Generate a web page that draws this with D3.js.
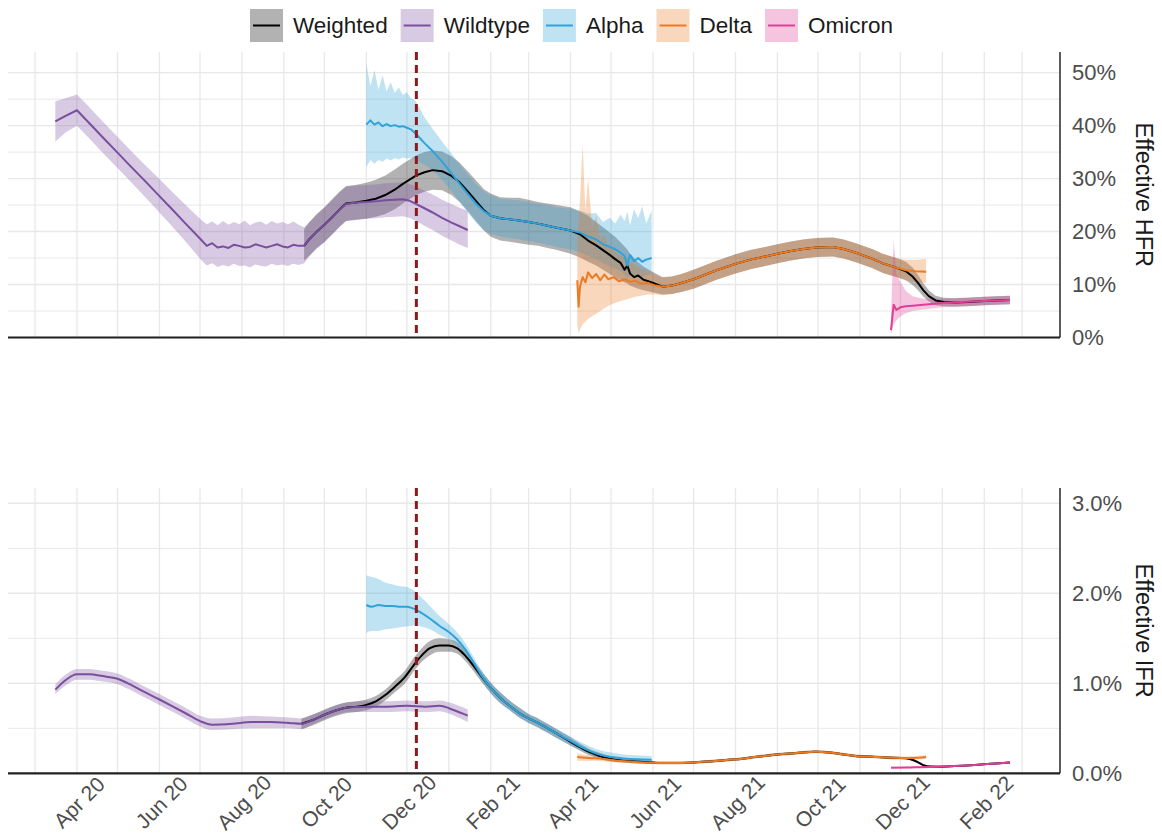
<!DOCTYPE html>
<html>
<head>
<meta charset="utf-8">
<script src="https://cdn.jsdelivr.net/npm/d3@7"></script>
<style>
  html, body { margin: 0; padding: 0; background: #fff; }
  svg { display: block; font-family: "Liberation Sans", Arial, Helvetica, sans-serif; }
</style>
</head>
<body>
<svg id="chart" width="1162" height="833"></svg>
<script>
// ---- Series: [date, estimate, lower, upper] ----
// Effective hospitalisation fatality rate (%)
const hfrWildtype = [
  ["2020-03-16",40.8,37.0,44.6],["2020-03-24",41.9,38.8,45.2],["2020-04-01",42.9,40.0,45.9],
  ["2020-04-10",40.5,37.6,43.5],["2020-04-20",37.8,34.9,40.8],["2020-05-01",34.9,32.0,37.9],
  ["2020-05-10",32.5,29.6,35.5],["2020-05-20",29.9,26.9,32.9],["2020-06-01",26.7,23.6,29.9],
  ["2020-06-10",24.3,21.1,27.6],["2020-06-20",21.6,18.2,25.1],["2020-07-02",18.4,14.6,22.2],
  ["2020-07-06",17.3,13.6,21.4],["2020-07-10",17.8,14.0,21.9],["2020-07-14",17.0,13.3,21.2],
  ["2020-07-18",17.2,13.7,22.0],["2020-07-22",16.9,13.4,21.3],["2020-07-26",17.5,13.9,21.8],
  ["2020-07-30",17.3,13.5,21.4],["2020-08-03",17.0,13.6,22.1],["2020-08-07",17.1,13.2,21.2],
  ["2020-08-11",17.6,13.8,21.7],["2020-08-15",17.3,13.5,21.9],["2020-08-19",17.0,13.4,21.3],
  ["2020-08-23",17.3,13.9,22.0],["2020-08-27",17.6,13.6,21.5],["2020-08-31",17.2,13.8,21.8],
  ["2020-09-04",17.0,13.5,21.4],["2020-09-08",17.5,13.9,21.9],["2020-09-12",17.3,13.7,21.3],
  ["2020-09-16",17.3,14.0,20.8],["2020-09-20",18.6,15.4,21.8],["2020-09-25",19.9,16.7,23.1],
  ["2020-10-01",21.3,18.1,24.5],["2020-10-07",22.8,19.6,26.0],["2020-10-12",24.1,20.9,27.3],
  ["2020-10-17",25.2,22.0,28.4],["2020-10-24",25.5,22.3,28.7],["2020-11-01",25.6,22.4,28.8],
  ["2020-11-08",25.7,22.5,28.9],["2020-11-15",25.9,22.7,29.1],["2020-11-22",26.0,22.8,29.2],
  ["2020-11-28",26.1,22.9,29.3],["2020-12-03",25.8,22.6,29.0],["2020-12-08",25.2,22.0,28.5],
  ["2020-12-14",24.4,21.1,27.7],["2020-12-20",23.6,20.3,27.0],["2020-12-27",22.6,19.2,26.0],
  ["2021-01-03",21.7,18.3,25.2],["2021-01-09",21.0,17.5,24.5],["2021-01-15",20.3,16.9,23.9]
];
const hfrAlpha = [
  ["2020-11-01",40.2,32.2,51.8],["2020-11-04",41.0,33.5,47.5],["2020-11-07",40.2,32.8,50.5],
  ["2020-11-10",40.6,33.5,46.8],["2020-11-13",39.9,33.2,49.5],["2020-11-16",40.3,33.8,46.5],
  ["2020-11-19",39.9,33.4,48.2],["2020-11-22",40.1,33.9,46.2],["2020-11-25",39.8,33.6,47.2],
  ["2020-11-28",39.9,34.0,45.8],["2020-12-01",39.6,33.8,46.3],["2020-12-04",39.3,33.9,45.2],
  ["2020-12-07",38.6,33.6,44.8],["2020-12-10",37.8,33.2,43.5],["2020-12-14",36.7,32.6,41.6],
  ["2020-12-20",35.2,31.6,39.4],["2020-12-27",33.2,29.8,37.0],["2021-01-03",31.0,27.6,34.7],
  ["2021-01-09",29.0,25.6,32.7],["2021-01-15",27.1,23.6,30.8],["2021-01-21",25.3,21.7,29.0],
  ["2021-01-27",23.8,20.2,27.6],["2021-02-01",23.0,19.6,26.8],["2021-02-08",22.5,19.0,26.2],
  ["2021-02-15",22.3,18.8,26.0],["2021-02-22",22.1,18.5,25.9],["2021-03-01",21.8,18.2,25.6],
  ["2021-03-08",21.5,17.9,25.3],["2021-03-15",21.1,17.5,25.0],["2021-03-22",20.7,17.1,24.6],
  ["2021-04-01",20.2,16.6,24.3],["2021-04-08",19.8,16.1,24.0],["2021-04-14",19.1,15.4,23.4],
  ["2021-04-20",18.5,14.8,23.5],["2021-04-25",17.6,14.0,21.8],["2021-04-30",17.1,13.5,22.6],
  ["2021-05-04",16.7,13.0,21.5],["2021-05-08",16.0,12.5,23.2],["2021-05-11",15.4,12.0,22.0],
  ["2021-05-13",13.6,11.0,23.8],["2021-05-15",15.6,12.2,21.2],["2021-05-18",14.4,11.6,24.2],
  ["2021-05-21",15.0,12.0,22.5],["2021-05-24",14.3,11.4,24.8],["2021-05-27",14.7,11.8,21.5],
  ["2021-05-31",15.0,12.0,24.0]
];
const hfrDelta = [
  ["2021-04-06",10.8,2.5,18.0],["2021-04-07",5.8,0.8,22.0],["2021-04-08",9.6,1.5,26.0],
  ["2021-04-10",11.4,2.5,36.6],["2021-04-12",10.4,3.0,24.0],["2021-04-14",12.3,3.5,30.0],
  ["2021-04-17",11.2,4.0,21.0],["2021-04-20",12.0,4.5,23.0],["2021-04-23",10.8,5.0,18.5],
  ["2021-04-26",11.9,5.5,19.5],["2021-04-29",11.0,6.0,17.0],["2021-05-03",11.4,6.4,16.8],
  ["2021-05-07",10.6,6.8,15.6],["2021-05-11",11.0,7.1,15.0],["2021-05-15",10.5,7.4,14.2],
  ["2021-05-19",10.7,7.7,13.8],["2021-05-23",10.2,7.9,13.0],["2021-05-28",10.3,8.1,12.6],
  ["2021-06-03",9.8,8.1,11.8],["2021-06-08",9.6,8.0,11.3],["2021-06-15",9.8,8.2,11.5],
  ["2021-06-22",10.3,8.6,12.0],["2021-07-01",11.0,9.2,12.8],["2021-07-10",11.9,10.1,13.7],
  ["2021-07-18",12.7,10.9,14.5],["2021-08-01",13.9,12.1,15.7],["2021-08-12",14.7,12.9,16.5],
  ["2021-08-23",15.3,13.5,17.1],["2021-09-01",15.8,14.0,17.6],["2021-09-10",16.3,14.5,18.1],
  ["2021-09-20",16.7,14.9,18.5],["2021-09-30",17.0,15.2,18.8],["2021-10-12",17.1,15.3,18.9],
  ["2021-10-20",16.7,14.9,18.5],["2021-10-29",16.0,14.2,17.8],["2021-11-10",14.9,13.1,16.7],
  ["2021-11-18",14.0,12.2,15.8],["2021-11-28",13.2,11.4,15.0],["2021-12-05",12.7,10.8,14.7],
  ["2021-12-12",12.5,10.5,14.7],["2021-12-20",12.4,10.3,14.8]
];
const hfrOmicron = [
  ["2021-11-24",1.4,0.6,4.0],["2021-11-26",6.2,2.5,18.4],["2021-11-28",5.2,3.2,12.0],
  ["2021-12-01",5.7,4.0,10.5],["2021-12-05",5.9,4.6,8.8],["2021-12-10",6.0,5.0,7.8],
  ["2021-12-18",6.2,5.3,7.3],["2022-01-01",6.5,5.7,7.3],["2022-01-15",6.7,5.9,7.5],
  ["2022-02-01",6.9,6.1,7.7],["2022-02-20",7.1,6.3,7.9]
];
const hfrWeighted = [
  ["2020-09-16",17.3,14.5,20.5],["2020-09-20",18.6,15.5,21.8],["2020-09-25",19.9,16.8,23.2],
  ["2020-10-01",21.3,18.0,24.6],["2020-10-07",22.8,19.5,26.2],["2020-10-12",24.1,20.8,27.5],
  ["2020-10-17",25.3,22.0,28.6],["2020-10-24",25.5,22.2,28.8],["2020-11-01",25.8,22.4,29.2],
  ["2020-11-08",26.2,22.8,29.8],["2020-11-15",26.9,23.3,30.6],["2020-11-22",27.9,24.2,31.7],
  ["2020-11-28",29.0,25.3,32.8],["2020-12-03",29.8,26.1,33.6],["2020-12-08",30.6,26.9,34.4],
  ["2020-12-14",31.2,27.5,35.0],["2020-12-20",31.6,27.9,35.3],["2020-12-27",31.4,27.8,35.1],
  ["2021-01-03",30.5,26.9,34.2],["2021-01-09",29.3,25.6,33.0],["2021-01-15",27.6,23.9,31.4],
  ["2021-01-21",25.8,22.0,29.7],["2021-01-27",24.0,20.2,28.0],["2021-02-01",23.0,19.0,27.2],
  ["2021-02-08",22.5,18.3,26.5],["2021-02-15",22.3,18.1,26.4],["2021-02-22",22.1,17.8,26.4],
  ["2021-03-01",21.8,17.5,26.0],["2021-03-08",21.5,17.3,25.6],["2021-03-15",21.1,16.9,25.3],
  ["2021-03-22",20.7,16.5,25.0],["2021-04-01",20.2,15.8,24.6],["2021-04-08",19.5,15.1,23.8],
  ["2021-04-14",18.3,14.3,23.0],["2021-04-20",17.4,13.6,21.8],["2021-04-25",16.5,12.8,20.8],
  ["2021-04-30",15.6,12.0,19.8],["2021-05-04",14.8,11.4,19.0],["2021-05-08",14.1,10.8,18.0],
  ["2021-05-11",12.8,10.4,17.2],["2021-05-13",13.6,10.2,16.6],["2021-05-15",12.1,9.8,15.8],
  ["2021-05-18",11.4,9.5,15.0],["2021-05-21",11.7,9.2,14.2],["2021-05-25",10.9,8.9,13.4],
  ["2021-05-29",10.6,8.7,12.8],["2021-06-03",10.1,8.4,12.1],["2021-06-08",9.6,8.1,11.4],
  ["2021-06-15",9.8,8.2,11.5],["2021-06-22",10.3,8.6,12.0],["2021-07-01",11.0,9.2,12.8],
  ["2021-07-10",11.9,10.1,13.7],["2021-07-18",12.7,10.9,14.5],["2021-08-01",13.9,12.1,15.7],
  ["2021-08-12",14.7,12.9,16.5],["2021-08-23",15.3,13.5,17.1],["2021-09-01",15.8,14.0,17.6],
  ["2021-09-10",16.3,14.5,18.1],["2021-09-20",16.7,14.9,18.5],["2021-09-30",17.0,15.2,18.8],
  ["2021-10-12",17.1,15.3,18.9],["2021-10-20",16.7,14.9,18.5],["2021-10-29",16.0,14.2,17.8],
  ["2021-11-10",14.9,13.1,16.7],["2021-11-18",14.0,12.2,15.8],["2021-11-28",13.2,11.4,15.0],
  ["2021-12-05",12.5,10.8,14.3],["2021-12-10",11.5,9.9,13.2],["2021-12-14",10.3,8.9,11.8],
  ["2021-12-18",8.9,7.7,10.2],["2021-12-22",7.8,6.8,8.9],["2021-12-27",7.0,6.1,7.9],
  ["2022-01-02",6.7,5.9,7.5],["2022-01-10",6.6,5.8,7.4],["2022-01-20",6.7,5.9,7.5],
  ["2022-02-01",6.9,6.1,7.7],["2022-02-10",7.0,6.2,7.8],["2022-02-20",7.1,6.3,7.9]
];

// Effective infection fatality rate (%)
const ifrWildtype = [
  ["2020-03-16",0.93,0.88,0.99],["2020-03-24",1.04,0.98,1.10],["2020-04-01",1.10,1.04,1.16],
  ["2020-04-10",1.10,1.04,1.16],["2020-04-20",1.08,1.02,1.14],["2020-05-01",1.05,0.99,1.11],
  ["2020-05-10",0.99,0.93,1.05],["2020-05-20",0.91,0.85,0.97],["2020-06-01",0.82,0.76,0.88],
  ["2020-06-10",0.75,0.69,0.81],["2020-06-20",0.67,0.61,0.73],["2020-07-01",0.58,0.52,0.64],
  ["2020-07-10",0.54,0.48,0.61],["2020-07-25",0.55,0.49,0.62],["2020-08-08",0.57,0.50,0.64],
  ["2020-08-22",0.57,0.50,0.63],["2020-09-05",0.56,0.50,0.62],["2020-09-14",0.55,0.49,0.61],
  ["2020-09-22",0.59,0.54,0.65],["2020-10-01",0.65,0.60,0.70],["2020-10-10",0.70,0.65,0.76],
  ["2020-10-18",0.73,0.68,0.79],["2020-11-01",0.74,0.68,0.80],["2020-11-15",0.74,0.68,0.80],
  ["2020-12-01",0.75,0.69,0.81],["2020-12-15",0.74,0.68,0.80],["2020-12-25",0.75,0.69,0.81],
  ["2021-01-05",0.70,0.64,0.77],["2021-01-15",0.64,0.57,0.71]
];
const ifrAlpha = [
  ["2020-11-01",1.87,1.56,2.20],["2020-11-05",1.85,1.58,2.18],["2020-11-10",1.87,1.58,2.16],
  ["2020-11-15",1.86,1.60,2.12],["2020-11-20",1.86,1.61,2.10],["2020-11-25",1.85,1.62,2.08],
  ["2020-12-01",1.85,1.63,2.07],["2020-12-06",1.83,1.64,2.03],["2020-12-12",1.78,1.63,1.95],
  ["2020-12-18",1.72,1.60,1.86],["2020-12-25",1.64,1.54,1.75],["2021-01-01",1.57,1.49,1.66],
  ["2021-01-07",1.49,1.42,1.57],["2021-01-13",1.38,1.32,1.45],["2021-01-19",1.24,1.18,1.30],
  ["2021-01-25",1.09,1.03,1.15],["2021-02-01",0.95,0.89,1.01],["2021-02-08",0.84,0.78,0.90],
  ["2021-02-15",0.75,0.70,0.81],["2021-02-22",0.67,0.62,0.73],["2021-03-01",0.61,0.56,0.66],
  ["2021-03-08",0.56,0.51,0.61],["2021-03-15",0.50,0.45,0.55],["2021-03-22",0.44,0.39,0.49],
  ["2021-04-01",0.36,0.31,0.41],["2021-04-08",0.30,0.26,0.35],["2021-04-15",0.25,0.21,0.30],
  ["2021-04-22",0.21,0.17,0.26],["2021-05-01",0.18,0.14,0.23],["2021-05-10",0.165,0.125,0.21],
  ["2021-05-20",0.155,0.115,0.20],["2021-05-31",0.15,0.11,0.19]
];
const ifrDelta = [
  ["2021-04-06",0.18,0.14,0.22],["2021-04-15",0.17,0.14,0.20],["2021-04-25",0.16,0.135,0.185],
  ["2021-05-05",0.14,0.12,0.16],["2021-05-15",0.13,0.115,0.145],["2021-05-25",0.12,0.105,0.135],
  ["2021-06-05",0.115,0.10,0.13],["2021-06-20",0.115,0.10,0.13],["2021-07-01",0.12,0.105,0.135],
  ["2021-07-15",0.135,0.12,0.15],["2021-08-01",0.155,0.14,0.17],["2021-08-15",0.18,0.165,0.195],
  ["2021-09-01",0.21,0.195,0.225],["2021-09-15",0.225,0.21,0.24],["2021-09-29",0.24,0.225,0.255],
  ["2021-10-10",0.23,0.215,0.245],["2021-10-20",0.21,0.195,0.225],["2021-10-30",0.19,0.175,0.205],
  ["2021-11-10",0.185,0.17,0.20],["2021-11-20",0.175,0.16,0.19],["2021-12-01",0.17,0.155,0.185],
  ["2021-12-10",0.17,0.155,0.19],["2021-12-20",0.18,0.16,0.20]
];
const ifrOmicron = [
  ["2021-11-24",0.063,0.055,0.072],["2021-12-05",0.064,0.056,0.073],["2021-12-15",0.068,0.060,0.077],
  ["2021-12-29",0.074,0.066,0.083],["2022-01-10",0.080,0.072,0.089],["2022-01-20",0.088,0.080,0.097],
  ["2022-02-01",0.100,0.091,0.109],["2022-02-10",0.110,0.100,0.120],["2022-02-20",0.120,0.110,0.130]
];
const ifrWeighted = [
  ["2020-09-14",0.55,0.49,0.61],["2020-09-22",0.59,0.53,0.65],["2020-10-01",0.65,0.59,0.71],
  ["2020-10-10",0.70,0.64,0.76],["2020-10-18",0.73,0.67,0.79],["2020-10-25",0.74,0.68,0.80],
  ["2020-11-01",0.76,0.70,0.82],["2020-11-08",0.80,0.74,0.86],["2020-11-15",0.87,0.81,0.93],
  ["2020-11-22",0.96,0.90,1.03],["2020-11-29",1.06,0.99,1.13],["2020-12-06",1.20,1.13,1.28],
  ["2020-12-12",1.31,1.24,1.39],["2020-12-18",1.39,1.31,1.47],["2020-12-25",1.42,1.35,1.50],
  ["2021-01-01",1.42,1.35,1.49],["2021-01-07",1.39,1.33,1.46],["2021-01-13",1.31,1.25,1.37],
  ["2021-01-19",1.20,1.14,1.26],["2021-01-25",1.08,1.02,1.14],["2021-02-01",0.95,0.89,1.01],
  ["2021-02-08",0.84,0.78,0.90],["2021-02-15",0.75,0.70,0.81],["2021-02-22",0.67,0.62,0.73],
  ["2021-03-01",0.61,0.56,0.66],["2021-03-08",0.56,0.51,0.61],["2021-03-15",0.50,0.45,0.55],
  ["2021-03-22",0.44,0.39,0.49],["2021-04-01",0.35,0.31,0.40],["2021-04-08",0.29,0.25,0.33],
  ["2021-04-15",0.235,0.20,0.27],["2021-04-22",0.195,0.165,0.23],["2021-05-01",0.16,0.13,0.19],
  ["2021-05-10",0.14,0.12,0.17],["2021-05-20",0.13,0.11,0.15],["2021-05-31",0.12,0.105,0.14],
  ["2021-06-05",0.115,0.10,0.13],["2021-06-20",0.115,0.10,0.13],["2021-07-01",0.12,0.105,0.135],
  ["2021-07-15",0.135,0.12,0.15],["2021-08-01",0.155,0.14,0.17],["2021-08-15",0.18,0.165,0.195],
  ["2021-09-01",0.21,0.195,0.225],["2021-09-15",0.225,0.21,0.24],["2021-09-29",0.24,0.225,0.255],
  ["2021-10-10",0.23,0.215,0.245],["2021-10-20",0.21,0.195,0.225],["2021-10-30",0.19,0.175,0.205],
  ["2021-11-10",0.185,0.17,0.20],["2021-11-20",0.175,0.16,0.19],["2021-12-01",0.17,0.155,0.185],
  ["2021-12-08",0.16,0.145,0.175],["2021-12-13",0.13,0.117,0.145],["2021-12-18",0.09,0.08,0.10],
  ["2021-12-23",0.075,0.067,0.084],["2021-12-29",0.074,0.066,0.083],["2022-01-10",0.080,0.072,0.089],
  ["2022-01-20",0.088,0.080,0.097],["2022-02-01",0.100,0.091,0.109],["2022-02-10",0.110,0.100,0.120],
  ["2022-02-20",0.120,0.110,0.130]
];

// ---- Labels, keys and reference date ----
const seriesNames = ["Weighted", "Wildtype", "Alpha", "Delta", "Omicron"];
const seriesColors = ["#000000", "#7a4e9e", "#2fa2dc", "#ec7a22", "#df3f98"];
const monthBreaks = ["2020-03-01","2020-04-01","2020-05-01","2020-06-01","2020-07-01","2020-08-01",
  "2020-09-01","2020-10-01","2020-11-01","2020-12-01","2021-01-01","2021-02-01","2021-03-01",
  "2021-04-01","2021-05-01","2021-06-01","2021-07-01","2021-08-01","2021-09-01","2021-10-01",
  "2021-11-01","2021-12-01","2022-01-01","2022-02-01","2022-03-01"];
const xTickLabels = [["2020-04-01","Apr 20"],["2020-06-01","Jun 20"],["2020-08-01","Aug 20"],
  ["2020-10-01","Oct 20"],["2020-12-01","Dec 20"],["2021-02-01","Feb 21"],["2021-04-01","Apr 21"],
  ["2021-06-01","Jun 21"],["2021-08-01","Aug 21"],["2021-10-01","Oct 21"],["2021-12-01","Dec 21"],
  ["2022-02-01","Feb 22"]];
const hfrTicks = [0, 10, 20, 30, 40, 50];
const ifrTicks = [0, 1, 2, 3];
const vaccineDate = "2020-12-08";

// ---- Layout ----
const parse = d3.utcParse("%Y-%m-%d");
const svg = d3.select("#chart");
const plotLeft = 8, plotRight = 1060;

const x = d3.scaleUtc()
  .domain([parse("2020-02-10"), parse("2022-03-29")])
  .range([plotLeft, plotRight]);

const panels = [
  { top: 52, bottom: 337.5, max: 53.9, ticks: hfrTicks, minor: 5, fmt: d => d + "%",
    title: "Effective HFR",
    series: [hfrWeighted, hfrWildtype, hfrAlpha, hfrDelta, hfrOmicron], curve: d3.curveLinear },
  { top: 488, bottom: 773.3, max: 3.17, ticks: ifrTicks, minor: 0.5, fmt: d => d.toFixed(1) + "%",
    title: "Effective IFR",
    series: [ifrWeighted, ifrWildtype, ifrAlpha, ifrDelta, ifrOmicron], curve: d3.curveMonotoneX }
];

const gridColor = "#e8e8e8";
const textGray = "#4d4d4d";

panels.forEach((p, pi) => {
  const y = d3.scaleLinear().domain([0, p.max]).range([p.bottom, p.top]);
  const g = svg.append("g");

  // horizontal grid (minor then major)
  const minorVals = d3.range(p.minor, p.max, p.minor * 2);
  g.selectAll(".hminor").data(minorVals).join("line")
    .attr("x1", plotLeft).attr("x2", plotRight)
    .attr("y1", d => y(d)).attr("y2", d => y(d))
    .attr("stroke", gridColor).attr("stroke-width", 1);
  g.selectAll(".hmajor").data(p.ticks).join("line")
    .attr("x1", plotLeft).attr("x2", plotRight)
    .attr("y1", d => y(d)).attr("y2", d => y(d))
    .attr("stroke", gridColor).attr("stroke-width", 1.4);

  // vertical grid, one per month
  g.selectAll(".vgrid").data(monthBreaks.map(parse)).join("line")
    .attr("x1", d => x(d)).attr("x2", d => x(d))
    .attr("y1", p.top).attr("y2", p.bottom)
    .attr("stroke", gridColor).attr("stroke-width", 1.3);

  const area = d3.area().curve(p.curve)
    .x(d => x(parse(d[0]))).y0(d => y(d[2])).y1(d => y(d[3]));
  const line = d3.line().curve(p.curve)
    .x(d => x(parse(d[0]))).y(d => y(d[1]));

  // uncertainty ribbons
  p.series.forEach((s, i) => {
    g.append("path").datum(s).attr("d", area)
      .attr("fill", seriesColors[i]).attr("fill-opacity", 0.3).attr("stroke", "none");
  });
  // central estimates
  p.series.forEach((s, i) => {
    g.append("path").datum(s).attr("d", line)
      .attr("fill", "none").attr("stroke", seriesColors[i])
      .attr("stroke-width", 2).attr("stroke-linejoin", "round");
  });

  // vaccination start marker
  const vx = x(parse(vaccineDate));
  g.append("line").attr("x1", vx).attr("x2", vx).attr("y1", p.top).attr("y2", p.bottom)
    .attr("stroke", "#8b1a1a").attr("stroke-width", 3).attr("stroke-dasharray", "8,5");

  // axes
  const yAxis = d3.axisRight(y).tickValues(p.ticks).tickFormat(p.fmt).tickSize(0).tickPadding(12);
  const ya = g.append("g").attr("transform", `translate(${plotRight},0)`).call(yAxis);
  ya.select(".domain").attr("stroke", "#333").attr("stroke-width", 1.6)
    .attr("d", `M0,${p.top}V${p.bottom}`);
  ya.selectAll("text").attr("fill", textGray).attr("font-size", 22)
    .attr("font-family", "Liberation Sans, Arial, sans-serif");

  const xAxis = d3.axisBottom(x).tickValues([]).tickSize(0);
  const xa = g.append("g").attr("transform", `translate(0,${p.bottom})`).call(xAxis);
  xa.select(".domain").attr("stroke", "#222").attr("stroke-width", 2.2)
    .attr("d", `M${plotLeft},0H${plotRight}`);

  // axis title on the right
  g.append("text")
    .attr("transform", `translate(1136,${(p.top + p.bottom) / 2}) rotate(90)`)
    .attr("text-anchor", "middle").attr("font-size", 23.5).attr("fill", "#1a1a1a")
    .text(p.title);

  // date labels under the lower panel
  if (pi === 1) {
    g.selectAll(".xlab").data(xTickLabels).join("text")
      .attr("transform", d => `translate(${x(parse(d[0])) + 2},${p.bottom + 29}) rotate(-45)`)
      .attr("text-anchor", "middle").attr("dominant-baseline", "central")
      .attr("font-size", 21).attr("fill", textGray)
      .text(d => d[1]);
  }
});

// ---- Legend ----
const legend = svg.append("g");
let lx = 250;
seriesNames.forEach((name, i) => {
  const item = legend.append("g").attr("transform", `translate(${lx},9)`);
  item.append("rect").attr("width", 33).attr("height", 33)
    .attr("fill", seriesColors[i]).attr("fill-opacity", 0.3);
  item.append("line").attr("x1", 3).attr("x2", 30).attr("y1", 16.5).attr("y2", 16.5)
    .attr("stroke", seriesColors[i]).attr("stroke-width", 2);
  const t = item.append("text").attr("x", 43).attr("y", 16.5).attr("dy", "0.35em")
    .attr("font-size", 22.5).attr("fill", "#1a1a1a").text(name);
  lx += 43 + t.node().getComputedTextLength() + 13;
});
</script>
</body>
</html>
